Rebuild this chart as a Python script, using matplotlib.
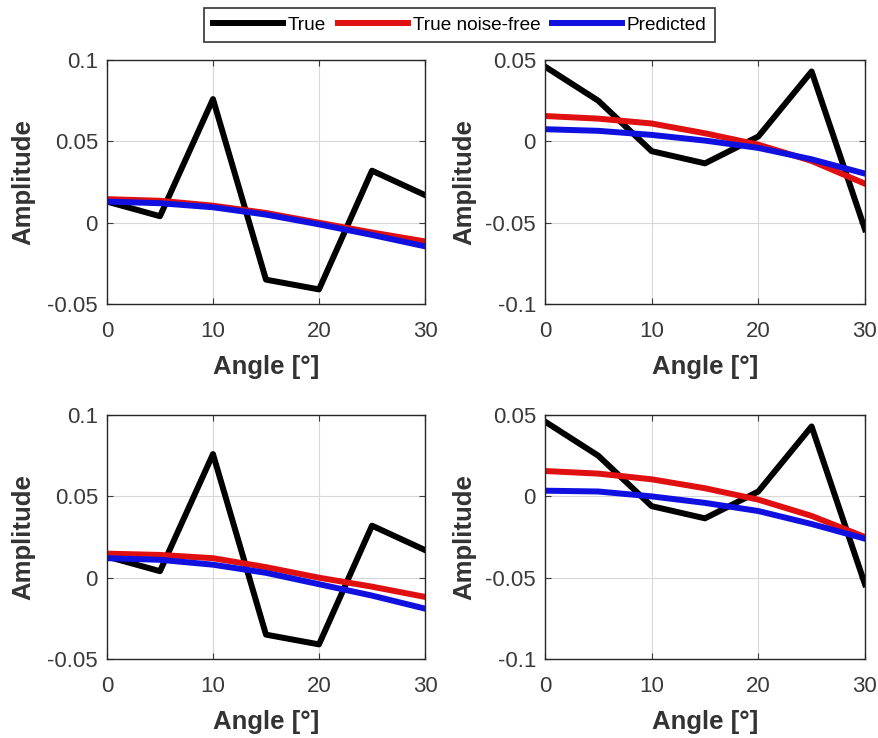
import matplotlib
matplotlib.use("Agg")
import matplotlib.pyplot as plt

plt.rcParams['font.family'] = ['Liberation Sans', 'DejaVu Sans']

angle = [0, 5, 10, 15, 20, 25, 30]

# left column (same measured signal in both rows)
true_left = [0.013, 0.004, 0.076, -0.035, -0.041, 0.032, 0.017]
# right column
true_right = [0.046, 0.025, -0.006, -0.0135, 0.003, 0.043, -0.054]

free_tl = [0.0145, 0.0135, 0.0105, 0.006, 0.000, -0.006, -0.0115]
pred_tl = [0.013, 0.012, 0.0095, 0.005, -0.001, -0.0075, -0.0145]

free_tr = [0.0156, 0.014, 0.011, 0.005, -0.002, -0.012, -0.026]
pred_tr = [0.0075, 0.0065, 0.004, 0.0005, -0.004, -0.011, -0.0198]

free_bl = [0.0148, 0.014, 0.012, 0.0065, 0.000, -0.0055, -0.0118]
pred_bl = [0.012, 0.011, 0.008, 0.003, -0.004, -0.011, -0.019]

free_br = [0.0156, 0.014, 0.0105, 0.005, -0.002, -0.012, -0.025]
pred_br = [0.0035, 0.003, 0.0, -0.004, -0.009, -0.017, -0.026]

yt_left = [-0.05, 0, 0.05, 0.1]
yl_left = ['-0.05', '0', '0.05', '0.1']
yt_right = [-0.1, -0.05, 0, 0.05]
yl_right = ['-0.1', '-0.05', '0', '0.05']

fig = plt.figure(figsize=(8.79, 7.38), dpi=100)

panels = [
    ([0.1217, 0.588, 0.3618, 0.3306], true_left, free_tl, pred_tl, yt_left, yl_left, -0.224),
    ([0.620, 0.588, 0.364, 0.3306], true_right, free_tr, pred_tr, yt_right, yl_right, -0.215),
    ([0.1217, 0.107, 0.3618, 0.3306], true_left, free_bl, pred_bl, yt_left, yl_left, -0.224),
    ([0.620, 0.107, 0.364, 0.3306], true_right, free_br, pred_br, yt_right, yl_right, -0.215),
]

handles = None
for rect, tr, fr, pr, yt, yl, ylx in panels:
    ax = fig.add_axes(rect)
    h1, = ax.plot(angle, tr, color='black', lw=4.3, label='True')
    h2, = ax.plot(angle, fr, color='#e01010', lw=4.3, label='True noise-free')
    h3, = ax.plot(angle, pr, color='#1010e0', lw=4.3, label='Predicted')
    handles = [h1, h2, h3]
    ax.set_xlim(0, 30)
    ax.set_ylim(yt[0], yt[-1])
    ax.set_xticks([0, 10, 20, 30])
    ax.set_yticks(yt)
    ax.set_yticklabels(yl)
    ax.grid(True, color='#d8d8d8', lw=0.8)
    ax.set_axisbelow(True)
    ax.tick_params(direction='in', labelsize=16, top=True, right=True,
                   length=4, colors='#3a3a3a')
    ax.tick_params(axis='x', pad=12)
    ax.tick_params(axis='y', pad=6.5)
    for s in ax.spines.values():
        s.set_color('#262626')
        s.set_linewidth(1.0)
    ax.set_xlabel('Angle [°]', fontsize=18.5, fontweight='bold', color='#333333')
    ax.set_ylabel('Amplitude', fontsize=18.5, fontweight='bold', color='#333333')
    ax.xaxis.set_label_coords(0.5, -0.21)
    ax.yaxis.set_label_coords(ylx, 0.5)

leg = fig.legend(handles=handles, loc='center', bbox_to_anchor=(0.523, 0.966), ncol=3,
                 fontsize=13.7, frameon=True, fancybox=False, edgecolor='black',
                 handlelength=3.7, handletextpad=0.25, columnspacing=0.6,
                 borderpad=0.45)
leg.get_frame().set_linewidth(1.2)

fig.savefig('out.png', dpi=100)
